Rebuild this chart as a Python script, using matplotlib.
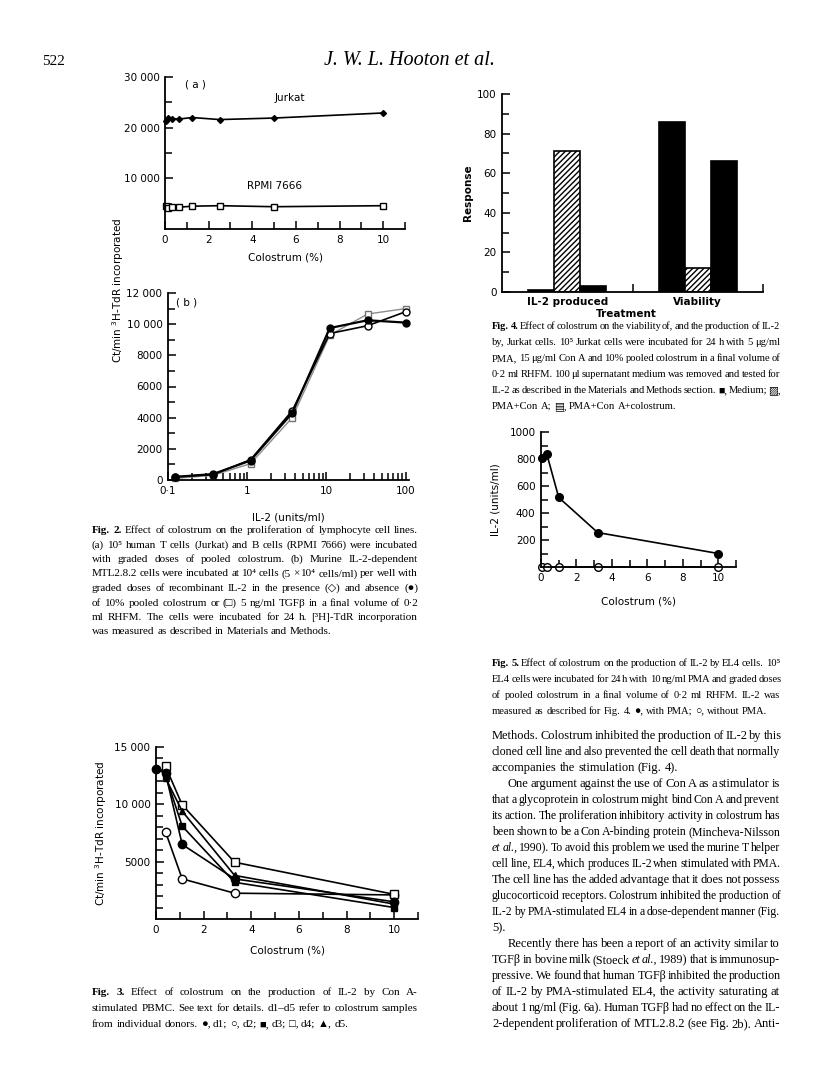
import matplotlib
matplotlib.use('Agg')
import matplotlib.pyplot as plt
import numpy as np
from matplotlib.ticker import FixedLocator, LogLocator, NullFormatter

# ---- data ----
# Fig 2a
colo_a = [0.04, 0.16, 0.31, 0.63, 1.25, 2.5, 5, 10]
jurkat = [21300, 22000, 21800, 21700, 22000, 21600, 21900, 22900]
rpmi = [4600, 4200, 4300, 4300, 4500, 4600, 4400, 4600]

# Fig 2b
il2 = [0.123, 0.37, 1.1, 3.7, 11, 33, 100]
mtl_none = [200, 380, 1250, 4300, 9750, 10250, 10100]
mtl_colo = [200, 350, 1300, 4450, 9400, 9900, 10800]
mtl_tgf = [100, 300, 1050, 4000, 9300, 10650, 11000]

# Fig 3
colo3 = [0.4, 1.1, 3.3, 10]
colo3_d1 = [0, 0.4, 1.1, 3.3, 10]
d1 = [13100, 12700, 6500, 3500, 1500]
d2 = [7600, 3500, 2250, 2100]
d3 = [12500, 8100, 3200, 1000]
d4 = [13300, 9950, 4950, 2150]
d5 = [12300, 9400, 3800, 1300]

# Fig 4
groups = ['IL-2 produced', 'Viability']
medium = [1, 86]
pma_cona = [71, 12]
pma_cona_colo = [3, 66]

# Fig 5
colo5 = [0.05, 0.32, 1, 3.2, 10]
with_pma = [810, 840, 515, 255, 100]
without_pma = [0, 0, 0, 0, 0]

W, H = 816, 1075
plt.rcParams['font.family'] = 'DejaVu Sans'
plt.rcParams['hatch.linewidth'] = 1.0
serif = ['Liberation Serif', 'DejaVu Sans']

fig = plt.figure(figsize=(W / 100, H / 100), dpi=100)
renderer = fig.canvas.get_renderer()


def axes_px(left, top, right, bottom):
    return fig.add_axes([left / W, 1 - bottom / H, (right - left) / W, (bottom - top) / H])


def style(ax):
    for s in ['top', 'right']:
        ax.spines[s].set_visible(False)
    for s in ['left', 'bottom']:
        ax.spines[s].set_linewidth(1.3)
    ax.tick_params(which='both', direction='in', width=1.1, labelsize=7.5, pad=4)
    ax.tick_params(which='major', length=6)
    ax.tick_params(which='minor', length=5)


def ftext(x, y, s, **kw):
    return fig.text(x / W, 1 - y / H, s, **kw)


# justified text, word by word (*bold*, _italic_)
def put_line(words, x0, x1, yb, size, justify):
    items = []
    for w in words:
        weight, st = 'normal', 'normal'
        if w.startswith('*'):
            w = w.strip('*')
            weight = 'bold'
        elif w.startswith('_'):
            w = w.strip('_')
            st = 'italic'
        t = ftext(0, yb, w, fontsize=size, family=serif, fontweight=weight,
                  fontstyle=st, va='baseline')
        items.append(t)
    widths = [t.get_window_extent(renderer).width for t in items]
    space = size * 0.25 * 100 / 72
    min_space = space * 0.55
    n = len(items)
    need = sum(widths) + (n - 1) * min_space
    if need > x1 - x0:
        # line too long: shrink it a little
        f = (x1 - x0 - (n - 1) * min_space) / sum(widths)
        for t in items:
            t.set_fontsize(size * f)
        widths = [t.get_window_extent(renderer).width for t in items]
        space = min_space
    if justify and n > 1:
        space = max((x1 - x0 - sum(widths)) / (n - 1), min_space)
    x = x0
    for t, wd in zip(items, widths):
        t.set_x(x / W)
        x += wd + space


def put_block(lines, x0, x1, y0, lh, size):
    for i, line in enumerate(lines):
        justify = not line.endswith('|')
        line = line.rstrip('|')
        ind = 0
        if line.startswith('>'):
            ind = 16
            line = line[1:]
        put_line(line.split(), x0 + ind, x1, y0 + i * lh, size, justify)


# header
ftext(42, 65, '522', fontsize=11, family=serif, va='baseline')
ftext(409, 65, 'J. W. L. Hooton et al.', fontsize=14.5, family=serif,
      fontstyle='italic', va='baseline', ha='center')

# ---- Fig 2a ----
ax = axes_px(165, 77, 405, 229)
style(ax)
ax.plot(colo_a, jurkat, color='k', lw=1.2, marker='D', ms=3, clip_on=False)
ax.plot(colo_a, rpmi, color='k', lw=1.2, marker='s', ms=4, mfc='white', mew=1, clip_on=False)
ax.set_xlim(0, 11)
ax.set_ylim(0, 30000)
ax.xaxis.set_major_locator(FixedLocator([0, 2, 4, 6, 8, 10]))
ax.xaxis.set_minor_locator(FixedLocator([1, 3, 5, 7, 9, 11]))
ax.set_xticklabels(['0', '2', '4', '6', '8', '10'])
ax.yaxis.set_major_locator(FixedLocator([10000, 20000, 30000]))
ax.yaxis.set_minor_locator(FixedLocator([5000, 15000, 25000]))
ax.set_yticklabels(['10 000', '20 000', '30 000'])
ax.set_xlabel('Colostrum (%)', fontsize=7.5, labelpad=6)
ax.text(0.9, 28500, '( a )', fontsize=7.5, va='center')
ax.text(5.7, 25800, 'Jurkat', fontsize=7.5, ha='center', va='center')
ax.text(5, 8500, 'RPMI 7666', fontsize=7.5, ha='center', va='center')

# ---- Fig 2b ----
ax = axes_px(168, 293, 409, 480)
style(ax)
ax.set_xscale('log')
ax.plot(il2, mtl_tgf, color='0.55', lw=1, marker='s', ms=5, mfc='white', mec='0.45',
        clip_on=False)
ax.plot(il2, mtl_colo, color='k', lw=1.2, marker='o', ms=5, mfc='white', clip_on=False)
ax.plot(il2, mtl_none, color='k', lw=1.6, marker='o', ms=5, clip_on=False)
ax.set_xlim(0.1, 110)
ax.set_ylim(0, 12000)
ax.xaxis.set_major_locator(FixedLocator([0.1, 1, 10, 100]))
ax.xaxis.set_minor_locator(LogLocator(base=10, subs=np.arange(2, 10)))
ax.xaxis.set_minor_formatter(NullFormatter())
ax.set_xticklabels(['0·1', '1', '10', '100'])
ax.yaxis.set_major_locator(FixedLocator(range(0, 12001, 2000)))
ax.yaxis.set_minor_locator(FixedLocator(range(1000, 12000, 2000)))
ax.set_yticklabels(['0', '2000', '4000', '6000', '8000', '10 000', '12 000'])
ax.set_xlabel('IL-2 (units/ml)', fontsize=7.5, labelpad=12)
ax.text(0.125, 11400, '( b )', fontsize=7.5, va='center')

ftext(118, 290, 'Ct/min $^{3}$H-TdR incorporated', fontsize=7.5, rotation=90,
      ha='center', va='center')

# ---- Fig 3 ----
ax = axes_px(156, 747, 418, 919)
style(ax)
ax.plot(colo3, d2, color='k', lw=1.2, marker='o', ms=6, mfc='white', clip_on=False)
ax.plot(colo3, d4, color='k', lw=1.2, marker='s', ms=6, mfc='white', clip_on=False)
ax.plot(colo3, d3, color='k', lw=1.2, marker='s', ms=4.5, clip_on=False)
ax.plot(colo3, d5, color='k', lw=1.2, marker='^', ms=5, clip_on=False)
ax.plot(colo3_d1, d1, color='k', lw=1.2, marker='o', ms=6, clip_on=False)
ax.set_xlim(0, 11)
ax.set_ylim(0, 15000)
ax.xaxis.set_major_locator(FixedLocator([0, 2, 4, 6, 8, 10]))
ax.xaxis.set_minor_locator(FixedLocator([1, 3, 5, 7, 9, 11]))
ax.set_xticklabels(['0', '2', '4', '6', '8', '10'])
ax.yaxis.set_major_locator(FixedLocator([5000, 10000, 15000]))
ax.yaxis.set_minor_locator(FixedLocator([1000, 2000, 3000, 4000, 6000, 7000, 8000, 9000,
                                         11000, 12000, 13000, 14000]))
ax.set_yticklabels(['5000', '10 000', '15 000'])
ax.set_xlabel('Colostrum (%)', fontsize=7.5, labelpad=8)
ax.set_ylabel('Ct/min $^{3}$H-TdR incorporated', fontsize=7.5, labelpad=4)

# ---- Fig 4 ----
ax = axes_px(502, 94, 763, 292)
style(ax)
x = np.arange(len(groups))
ax.bar(x - 0.2, medium, 0.2, color='k', edgecolor='k', lw=1.2)
ax.bar(x, pma_cona, 0.2, color='white', edgecolor='k', hatch='//////', lw=1.2)
ax.bar(x + 0.2, pma_cona_colo, 0.2, color='k', edgecolor='k', lw=1.2)
ax.set_xlim(-0.5, 1.5)
ax.set_ylim(0, 100)
ax.xaxis.set_major_locator(FixedLocator([0.5, 1.5]))
ax.set_xticklabels(['', ''])
ax.yaxis.set_major_locator(FixedLocator(range(0, 101, 20)))
ax.yaxis.set_minor_locator(FixedLocator(range(10, 100, 20)))
for i, g in enumerate(groups):
    ax.text(x[i], -0.025, g, transform=ax.get_xaxis_transform(), ha='center', va='top',
            fontsize=7.5, fontweight='bold')
ax.text(0.45, -0.085, 'Treatment', transform=ax.get_xaxis_transform(), ha='center',
        va='top', fontsize=7.5, fontweight='bold')
ax.set_ylabel('Response', fontsize=7.5, fontweight='bold', labelpad=3)

# ---- Fig 5 ----
ax = axes_px(541, 432, 736, 567)
style(ax)
ax.plot(colo5, with_pma, color='k', lw=1.2, marker='o', ms=5.5, clip_on=False)
ax.plot(colo5, without_pma, color='k', lw=1.2, marker='o', ms=5.5, mfc='white', clip_on=False)
ax.set_xlim(0, 11)
ax.set_ylim(0, 1000)
ax.xaxis.set_major_locator(FixedLocator([0, 2, 4, 6, 8, 10]))
ax.xaxis.set_minor_locator(FixedLocator([1, 3, 5, 7, 9, 11]))
ax.set_xticklabels(['0', '2', '4', '6', '8', '10'])
ax.yaxis.set_major_locator(FixedLocator([200, 400, 600, 800, 1000]))
ax.yaxis.set_minor_locator(FixedLocator([100, 300, 500, 700, 900]))
ax.set_xlabel('Colostrum (%)', fontsize=7.5, labelpad=10)
ax.set_ylabel('IL-2 (units/ml)', fontsize=7.5, labelpad=6)

# ---- captions and body text ----
cap2 = [
    '*Fig.* *2.* Effect of colostrum on the proliferation of lymphocyte cell lines.',
    '(a) 10⁵ human T cells (Jurkat) and B cells (RPMI 7666) were incubated',
    'with graded doses of pooled colostrum. (b) Murine IL-2-dependent',
    'MTL2.8.2 cells were incubated at 10⁴ cells (5 × 10⁴ cells/ml) per well with',
    'graded doses of recombinant IL-2 in the presence (◇) and absence (●)',
    'of 10% pooled colostrum or (□) 5 ng/ml TGFβ in a final volume of 0·2',
    'ml RHFM. The cells were incubated for 24 h. [³H]-TdR incorporation',
    'was measured as described in Materials and Methods.|',
]
put_block(cap2, 92, 418, 533, 14.5, 8.0)

cap4 = [
    '*Fig.* *4.* Effect of colostrum on the viability of, and the production of IL-2',
    'by, Jurkat cells. 10⁵ Jurkat cells were incubated for 24 h with 5 μg/ml',
    'PMA, 15 μg/ml Con A and 10% pooled colostrum in a final volume of',
    '0·2 ml RHFM. 100 μl supernatant medium was removed and tested for',
    'IL-2 as described in the Materials and Methods section. ■, Medium; ▨,',
    'PMA+Con A; ▤, PMA+Con A+colostrum.|',
]
put_block(cap4, 492, 780, 329, 16, 7.6)

cap5 = [
    '*Fig.* *5.* Effect of colostrum on the production of IL-2 by EL4 cells. 10⁵',
    'EL4 cells were incubated for 24 h with 10 ng/ml PMA and graded doses',
    'of pooled colostrum in a final volume of 0·2 ml RHFM. IL-2 was',
    'measured as described for Fig. 4. ●, with PMA; ○, without PMA.|',
]
put_block(cap5, 492, 780, 666, 16, 7.6)

cap3 = [
    '*Fig.* *3.* Effect of colostrum on the production of IL-2 by Con A-',
    'stimulated PBMC. See text for details. d1–d5 refer to colostrum samples',
    'from individual donors. ●, d1; ○, d2; ■, d3; □, d4; ▲, d5.|',
]
put_block(cap3, 92, 418, 995, 16, 8.0)

body = [
    'Methods. Colostrum inhibited the production of IL-2 by this',
    'cloned cell line and also prevented the cell death that normally',
    'accompanies the stimulation (Fig. 4).|',
    '>One argument against the use of Con A as a stimulator is',
    'that a glycoprotein in colostrum might bind Con A and prevent',
    'its action. The proliferation inhibitory activity in colostrum has',
    'been shown to be a Con A-binding protein (Mincheva-Nilsson',
    '_et_ _al.,_ 1990). To avoid this problem we used the murine T helper',
    'cell line, EL4, which produces IL-2 when stimulated with PMA.',
    'The cell line has the added advantage that it does not possess',
    'glucocorticoid receptors. Colostrum inhibited the production of',
    'IL-2 by PMA-stimulated EL4 in a dose-dependent manner (Fig.',
    '5).|',
    '>Recently there has been a report of an activity similar to',
    'TGFβ in bovine milk (Stoeck _et_ _al.,_ 1989) that is immunosup-',
    'pressive. We found that human TGFβ inhibited the production',
    'of IL-2 by PMA-stimulated EL4, the activity saturating at',
    'about 1 ng/ml (Fig. 6a). Human TGFβ had no effect on the IL-',
    '2-dependent proliferation of MTL2.8.2 (see Fig. 2b). Anti-',
]
put_block(body, 492, 780, 739, 16, 9.0)

fig.savefig('out.png', dpi=100)
